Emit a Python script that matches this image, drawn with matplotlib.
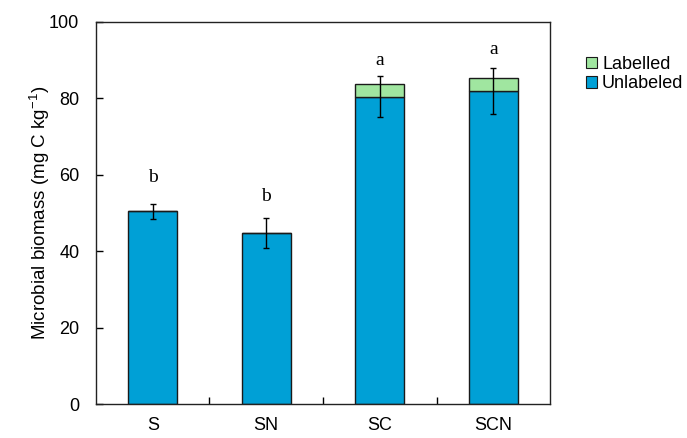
import numpy as np
import matplotlib.pyplot as plt
from matplotlib.patches import Patch

treatments = ["S", "SN", "SC", "SCN"]
unlabeled = [50.4, 44.7, 80.4, 81.9]
labelled = [0.0, 0.0, 3.4, 3.5]
errors = [2.0, 3.9, 5.4, 6.0]
letters = ["b", "b", "a", "a"]
letter_y = [59.2, 54.2, 89.9, 92.9]

blue = "#00A0D6"
green = "#A0E6A0"

plt.rcParams["font.family"] = ["Liberation Sans", "DejaVu Sans"]
plt.rcParams["mathtext.fontset"] = "custom"
plt.rcParams["mathtext.rm"] = "Liberation Sans"

fig = plt.figure(figsize=(6.87, 4.38), dpi=100)
ax = fig.add_axes([0.1397, 0.0776, 0.6609, 0.8722])

x = np.arange(len(treatments))
ax.bar(x, unlabeled, width=0.43, color=blue, edgecolor="#1a1a1a", linewidth=1.0, zorder=2)
ax.bar(x, labelled, width=0.43, bottom=unlabeled, color=green, edgecolor="#1a1a1a",
       linewidth=1.0, zorder=2)
ax.errorbar(x, unlabeled, yerr=errors, fmt="none", ecolor="black", elinewidth=1.0,
            capsize=2.5, capthick=1.0, zorder=3)

for xi, t, ty in zip(x, letters, letter_y):
    ax.text(xi, ty, t, ha="center", va="center", fontsize=14, family="Liberation Serif")

ax.set_xlim(-0.5, len(treatments) - 0.5)
ax.set_ylim(0, 100)
ax.set_yticks(range(0, 101, 20))
ax.set_xticks(x)
ax.set_xticklabels(treatments, fontsize=13)
ax.set_xticks(np.arange(0.5, len(treatments) - 1, 1.0), minor=True)
ax.tick_params(axis="x", which="major", length=0, pad=9)
ax.tick_params(axis="x", which="minor", direction="in", length=5, width=1)
ax.tick_params(axis="y", direction="in", length=5, width=1, labelsize=13, pad=12)
for s in ax.spines.values():
    s.set_linewidth(1.0)
    s.set_color("#222222")

ax.set_ylabel("Microbial biomass (mg C kg$^{\\mathregular{-1}}$)", fontsize=13.5, labelpad=-2)

handles = [Patch(facecolor=green, edgecolor="#1a1a1a", linewidth=0.8, label="Labelled"),
           Patch(facecolor=blue, edgecolor="#1a1a1a", linewidth=0.8, label="Unlabeled")]
fig.legend(handles=handles, loc="upper left", bbox_to_anchor=(0.829, 0.91), frameon=False,
           fontsize=13, handlelength=0.6, handleheight=0.6, handletextpad=0.3, labelspacing=0.15)

fig.savefig("out.png", dpi=100)
